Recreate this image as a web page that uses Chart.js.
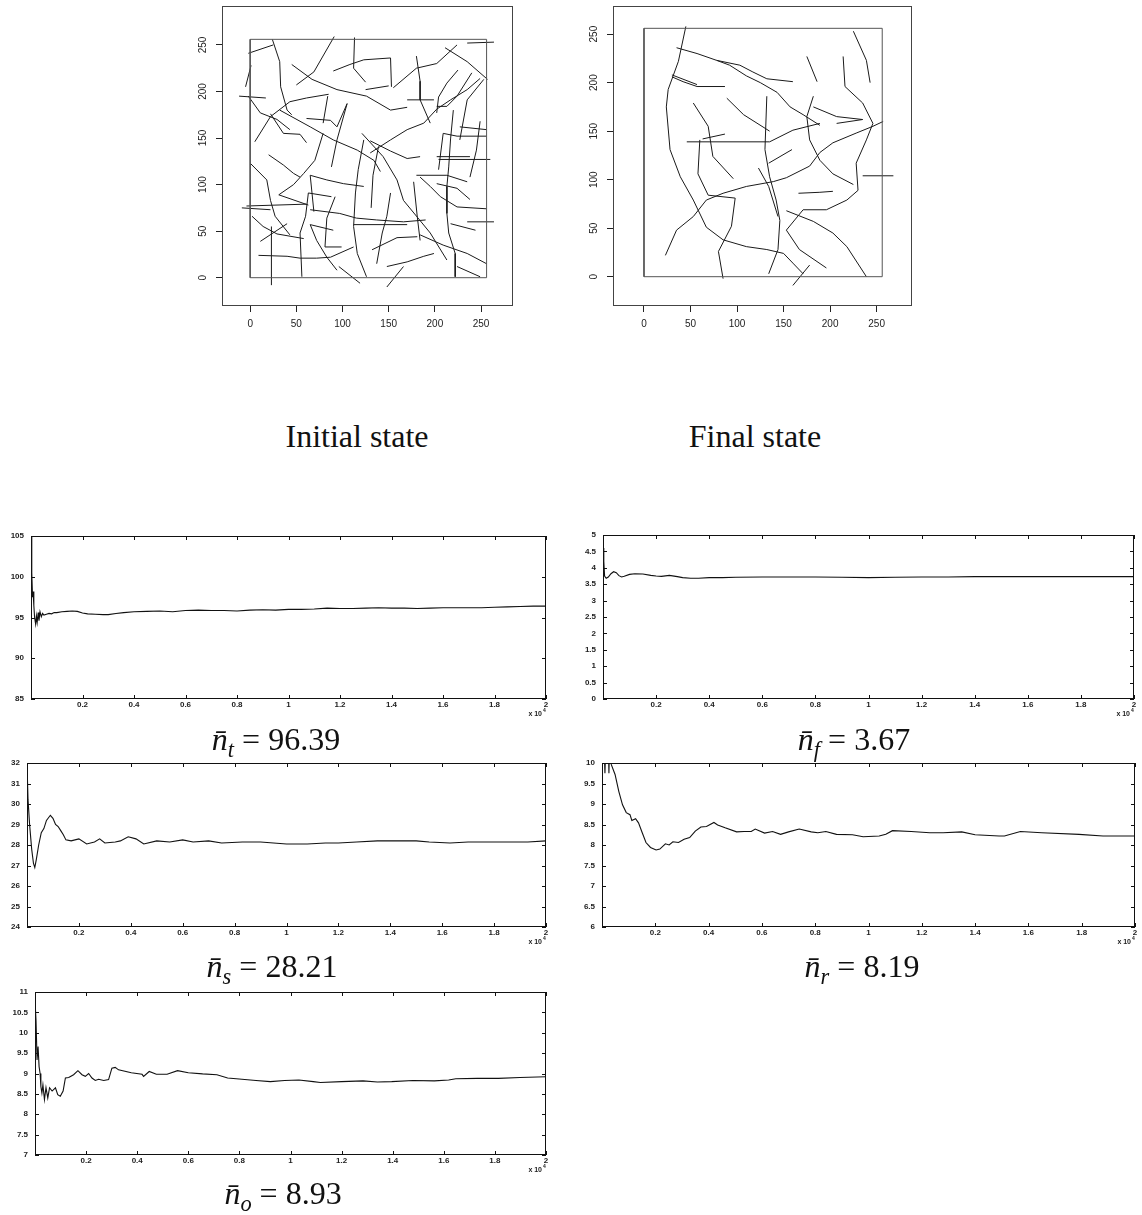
<!DOCTYPE html>
<html>
<head>
<meta charset="utf-8">
<script src="https://cdn.jsdelivr.net/npm/chart.js@4.4.0/dist/chart.umd.min.js"></script>
<style>
body { margin: 0; background: #fff; width: 1142px; height: 1215px; position: relative; overflow: hidden; }
.boite { position: absolute; }
.legende { position: absolute; font-family: 'Liberation Serif', serif; font-size: 32px; color: #111;
           white-space: nowrap; transform: translate(-50%, -50%); }
.legende sub { font-size: 0.7em; vertical-align: -0.3em; }
</style>
</head>
<body>
<div class="boite" id="b_initial"><canvas id="graph_initial"></canvas></div>
<div class="boite" id="b_final"><canvas id="graph_final"></canvas></div>
<div class="boite" id="b_nt"><canvas id="graph_nt"></canvas></div>
<div class="boite" id="b_nf"><canvas id="graph_nf"></canvas></div>
<div class="boite" id="b_ns"><canvas id="graph_ns"></canvas></div>
<div class="boite" id="b_nr"><canvas id="graph_nr"></canvas></div>
<div class="boite" id="b_no"><canvas id="graph_no"></canvas></div>

<div class="legende" style="left:357px; top:436px">Initial state</div>
<div class="legende" style="left:755px; top:436px">Final state</div>
<div class="legende" style="left:276px; top:742px"><i>n̄</i><sub><i>t</i></sub> = 96.39</div>
<div class="legende" style="left:854px; top:742px"><i>n̄</i><sub><i>f</i></sub> = 3.67</div>
<div class="legende" style="left:272px; top:969px"><i>n̄</i><sub><i>s</i></sub> = 28.21</div>
<div class="legende" style="left:862px; top:969px"><i>n̄</i><sub><i>r</i></sub> = 8.19</div>
<div class="legende" style="left:283px; top:1196px"><i>n̄</i><sub><i>o</i></sub> = 8.93</div>

<script>
/*------------------------------*/
/*          Donnees             */
/*------------------------------*/
// etats : polylignes [x1,y1, x2,y2, ...]
var carre = [0,0, 256,0, 256,256, 0,256, 0,0]
var ticks_etat = [0, 50, 100, 150, 200, 250]

var lignes_initial = [
  [-2,241, 25,250],
  [24,256, 32,232, 33,205, 40,180, 45,175],
  [-5,205, 1,228],
  [-12,195, 17,193],
  [-2,195, 11,177, 29,170, 43,159],
  [45,229, 67,213, 94,202, 126,195, 152,180, 170,183],
  [50,207, 69,221, 91,259],
  [90,222, 108,229, 123,234, 152,236],
  [113,258, 112,225, 125,210],
  [152,236, 153,205],
  [125,202, 150,206],
  [155,204, 180,225, 202,230, 224,250],
  [211,247, 235,232, 257,213],
  [235,252, 264,253],
  [180,238, 184,211, 184,191, 195,166],
  [202,177, 204,194, 213,209, 225,223],
  [240,220, 224,195, 213,184, 202,184],
  [227,148, 235,191, 253,213],
  [170,191, 199,191],
  [5,146, 22,173, 43,189, 61,193, 85,197],
  [22,176, 36,155, 54,154, 61,145],
  [32,180, 65,162, 90,148, 116,137, 134,126, 141,114],
  [61,171, 87,169],
  [87,169, 94,162, 105,187],
  [84,195, 79,166],
  [88,119, 94,148, 105,187],
  [20,132, 36,121, 47,112, 54,108],
  [31,89, 47,100, 58,112, 70,126, 79,155],
  [0,123, 18,105, 22,83, 27,66, 43,46],
  [31,89, 63,78],
  [65,73, 97,69, 115,64, 137,62, 166,60, 190,62],
  [63,91, 88,87],
  [63,91, 60,66, 54,48, 56,1],
  [65,110, 83,105, 101,101, 123,98],
  [65,110, 69,71],
  [92,87, 83,64, 81,33, 99,33],
  [123,148, 117,116, 114,91, 112,55, 116,26, 126,1],
  [121,155, 144,130, 159,105, 166,83, 181,65, 195,48, 213,19],
  [130,147, 152,136, 170,128, 184,130],
  [130,134, 152,148, 170,159, 188,166, 202,181, 217,191, 235,202, 249,214],
  [152,91, 148,66, 143,48, 137,15],
  [184,108, 195,98, 206,87, 224,76, 256,74],
  [180,110, 213,110, 235,103],
  [202,101, 224,96, 238,84],
  [204,116, 209,155, 224,152, 256,152],
  [202,130, 238,130],
  [204,127, 260,127],
  [227,162, 256,159],
  [220,180, 217,149, 215,119, 213,98, 213,69, 215,48, 222,26, 222,1],
  [235,60, 264,60],
  [217,58, 244,51],
  [184,46, 209,35, 235,26, 256,15],
  [224,12, 249,1],
  [132,30, 159,43, 181,44],
  [148,12, 170,17, 188,23, 199,26],
  [148,-10, 166,12],
  [9,24, 40,23, 54,21, 72,21, 87,22, 112,33],
  [23,-8, 23,55],
  [2,66, 14,55, 29,47, 58,42],
  [11,39, 40,58],
  [-9,75, 22,73],
  [-4,77, 61,79],
  [65,57, 72,40, 83,22, 94,8],
  [65,57, 90,51],
  [96,12, 119,-6],
  [112,57, 170,57],
  [177,103, 181,65, 184,40],
  [139,141, 133,110, 131,75],
  [249,168, 245,137, 238,108]
]

var lignes_final = [
  [23,22, 35,48, 53,62, 67,79, 85,86, 110,93, 139,98, 153,102, 178,114, 189,128, 203,138, 228,148, 246,155, 257,160],
  [45,258, 37,222, 26,193, 24,175, 28,131, 39,103, 53,79, 67,51, 85,38, 110,31, 132,28, 150,24, 160,14, 171,3],
  [35,236, 57,230, 78,223, 103,218, 117,211, 132,204, 160,201],
  [78,223, 92,218, 110,207, 125,200, 143,190, 157,175, 171,167, 189,156],
  [30,206, 42,201, 57,196, 87,196],
  [30,208, 57,198],
  [53,179, 69,155, 74,124, 96,101],
  [89,184, 107,167, 135,150],
  [46,139, 135,139, 160,151, 189,158],
  [60,141, 58,106, 69,84, 98,81, 94,52, 80,26, 85,-2],
  [63,142, 87,147],
  [132,186, 130,131, 135,103, 142,79, 146,58, 144,28, 134,3],
  [123,112, 134,93, 144,62],
  [134,117, 159,131],
  [175,227, 186,201],
  [182,186, 175,165, 178,141, 189,120, 203,106, 225,95],
  [182,175, 207,165, 235,162],
  [207,158, 235,162],
  [214,227, 216,196, 235,179, 246,158, 239,141, 228,117, 230,89, 218,79, 196,69, 171,69, 153,48, 167,28, 196,9],
  [225,253, 239,223, 243,200],
  [166,86, 189,87, 203,88],
  [235,104, 268,104],
  [160,-9, 178,12],
  [153,68, 182,57, 203,45, 218,31, 239,0]
]

// series temporelles (x en unites de 10^4)
var ticks_temps = [0, 0.2, 0.4, 0.6, 0.8, 1, 1.2, 1.4, 1.6, 1.8, 2]

var temps_nt = [0, 0.003, 0.006, 0.008, 0.011, 0.014, 0.018, 0.021, 0.024, 0.028, 0.031, 0.035, 0.04, 0.045, 0.05, 0.06, 0.07, 0.08, 0.09, 0.1, 0.12, 0.14, 0.16, 0.18, 0.2, 0.22, 0.25, 0.28, 0.3, 0.33, 0.36, 0.4, 0.45, 0.5, 0.55, 0.6, 0.65, 0.7, 0.75, 0.8, 0.85, 0.9, 0.95, 1.0, 1.05, 1.1, 1.15, 1.2, 1.25, 1.3, 1.35, 1.4, 1.45, 1.5, 1.55, 1.6, 1.65, 1.7, 1.75, 1.8, 1.85, 1.9, 1.95, 2.0]
var valeurs_nt = [105, 100.5, 97.5, 98.2, 96.5, 95, 94.2, 95.2, 94.4, 95.6, 94.6, 95.7, 95.1, 95.5, 95.3, 95.4, 95.5, 95.45, 95.6, 95.6, 95.7, 95.75, 95.8, 95.75, 95.55, 95.45, 95.4, 95.35, 95.35, 95.5, 95.6, 95.7, 95.75, 95.8, 95.7, 95.85, 95.9, 95.85, 95.85, 95.8, 95.9, 95.95, 95.9, 96.0, 96.0, 96.05, 96.15, 96.1, 96.1, 96.15, 96.2, 96.15, 96.15, 96.1, 96.15, 96.2, 96.2, 96.2, 96.2, 96.25, 96.3, 96.35, 96.4, 96.4]
var ticks_nt = [85, 90, 95, 100, 105]

var temps_nf = [0, 0.003, 0.006, 0.012, 0.02, 0.03, 0.04, 0.05, 0.06, 0.07, 0.08, 0.1, 0.12, 0.15, 0.18, 0.2, 0.22, 0.25, 0.28, 0.3, 0.33, 0.36, 0.4, 0.45, 0.5, 0.6, 0.7, 0.8, 0.9, 1.0, 1.1, 1.2, 1.3, 1.4, 1.5, 1.6, 1.7, 1.8, 1.9, 2.0]
var valeurs_nf = [4.6, 4.2, 3.75, 3.68, 3.72, 3.82, 3.88, 3.85, 3.76, 3.72, 3.74, 3.8, 3.82, 3.81, 3.77, 3.75, 3.74, 3.77, 3.73, 3.7, 3.68, 3.68, 3.7, 3.7, 3.71, 3.72, 3.72, 3.72, 3.71, 3.7, 3.71, 3.72, 3.72, 3.73, 3.73, 3.73, 3.73, 3.73, 3.73, 3.73]
var ticks_nf = [0, 0.5, 1, 1.5, 2, 2.5, 3, 3.5, 4, 4.5, 5]

var temps_ns = [0, 0.004, 0.01, 0.018, 0.025, 0.03, 0.036, 0.045, 0.055, 0.065, 0.075, 0.09, 0.1, 0.11, 0.12, 0.13, 0.14, 0.15, 0.17, 0.2, 0.23, 0.26, 0.28, 0.3, 0.34, 0.36, 0.39, 0.42, 0.45, 0.5, 0.55, 0.6, 0.64, 0.7, 0.75, 0.83, 0.9, 0.95, 1.0, 1.08, 1.15, 1.2, 1.27, 1.35, 1.45, 1.5, 1.55, 1.63, 1.7, 1.75, 1.85, 1.93, 2.0]
var valeurs_ns = [32, 30.2, 29.0, 27.8, 27.1, 26.9, 27.3, 28.0, 28.6, 28.8, 29.2, 29.45, 29.3, 29.0, 28.9, 28.7, 28.5, 28.25, 28.2, 28.3, 28.05, 28.15, 28.3, 28.1, 28.15, 28.2, 28.4, 28.3, 28.05, 28.2, 28.15, 28.25, 28.15, 28.2, 28.1, 28.15, 28.15, 28.1, 28.05, 28.05, 28.1, 28.1, 28.15, 28.2, 28.2, 28.2, 28.15, 28.1, 28.15, 28.15, 28.15, 28.15, 28.2]
var ticks_ns = [24, 25, 26, 27, 28, 29, 30, 31, 32]

var temps_nr = [0, 0.006, 0.008, 0.011, 0.014, 0.02, 0.024, 0.026, 0.028, 0.035, 0.049, 0.063, 0.077, 0.091, 0.105, 0.112, 0.126, 0.137, 0.151, 0.165, 0.182, 0.203, 0.217, 0.238, 0.252, 0.266, 0.287, 0.308, 0.329, 0.35, 0.371, 0.392, 0.42, 0.434, 0.462, 0.505, 0.533, 0.56, 0.575, 0.61, 0.64, 0.67, 0.7, 0.74, 0.785, 0.81, 0.84, 0.88, 0.94, 0.98, 1.04, 1.065, 1.09, 1.16, 1.23, 1.28, 1.35, 1.4, 1.49, 1.51, 1.57, 1.65, 1.79, 1.88, 2.0]
var valeurs_nr = [11, 10.6, 10.4, 9.75, 10.4, 10.6, 10.4, 9.75, 10.4, 9.96, 9.72, 9.31, 8.98, 8.79, 8.74, 8.6, 8.64, 8.54, 8.3, 8.06, 7.94, 7.88, 7.9, 8.03, 8.0, 8.08, 8.06, 8.14, 8.18, 8.34, 8.44, 8.45, 8.55, 8.49, 8.42, 8.32, 8.33, 8.33, 8.39, 8.29, 8.33, 8.26, 8.32, 8.39, 8.32, 8.3, 8.33, 8.26, 8.25, 8.2, 8.22, 8.26, 8.35, 8.33, 8.3, 8.3, 8.32, 8.25, 8.22, 8.22, 8.33, 8.3, 8.26, 8.22, 8.22]
var ticks_nr = [6, 6.5, 7, 7.5, 8, 8.5, 9, 9.5, 10]

var temps_no = [0, 0.004, 0.008, 0.012, 0.016, 0.02, 0.023, 0.027, 0.031, 0.037, 0.043, 0.05, 0.057, 0.067, 0.08, 0.089, 0.099, 0.11, 0.119, 0.132, 0.151, 0.168, 0.184, 0.197, 0.21, 0.223, 0.236, 0.249, 0.269, 0.288, 0.301, 0.314, 0.327, 0.377, 0.419, 0.425, 0.447, 0.475, 0.517, 0.558, 0.6, 0.656, 0.712, 0.754, 0.81, 0.865, 0.921, 0.977, 1.033, 1.089, 1.117, 1.2, 1.284, 1.34, 1.396, 1.479, 1.563, 1.619, 1.647, 1.731, 1.814, 1.898, 2.0]
var valeurs_no = [10.8, 10.3, 9.33, 9.66, 9.17, 9.0, 8.68, 8.52, 8.72, 8.36, 8.65, 8.4, 8.65, 8.57, 8.65, 8.48, 8.44, 8.57, 8.89, 8.9, 8.97, 9.07, 8.97, 8.93, 9.0, 8.89, 8.83, 8.86, 8.83, 8.85, 9.13, 9.15, 9.09, 9.02, 8.98, 8.93, 9.05, 8.98, 8.98, 9.07, 9.02, 8.99, 8.97, 8.89, 8.86, 8.83, 8.8, 8.83, 8.84, 8.8, 8.78, 8.8, 8.82, 8.79, 8.8, 8.83, 8.82, 8.84, 8.87, 8.88, 8.88, 8.9, 8.92]
var ticks_no = [7, 7.5, 8, 8.5, 9, 9.5, 10, 10.5, 11]

/*------------------------------*/
/*     Mise en page / outils    */
/*------------------------------*/
Chart.defaults.font.family = "'Liberation Sans', Arial, sans-serif"
Chart.defaults.color = '#222'
Chart.defaults.animation = false

// zone du graphe [gauche, haut, droite, bas] et marges [g, h, d, b]
function placer(id, zone, marge) {
  var b = document.getElementById(id)
  b.style.left = (zone[0] - marge[0]) + 'px'
  b.style.top = (zone[1] - marge[1]) + 'px'
  b.style.width = (zone[2] - zone[0] + marge[0] + marge[2]) + 'px'
  b.style.height = (zone[3] - zone[1] + marge[1] + marge[3]) + 'px'
}

function points(xs, ys) {
  return xs.map(function (x, i) { return { x: x, y: ys[i] } })
}
function polyligne(tab) {
  var p = []
  for (var i = 0; i < tab.length; i += 2) p.push({ x: tab[i], y: tab[i + 1] })
  return p
}
function fixerTicks(liste) {
  return function (s) { s.ticks = liste.map(function (v) { return { value: v } }) }
}

// cadre + petites graduations interieures facon matlab
var cadre = {
  id: 'cadre',
  afterDraw: function (chart, args, opt) {
    var a = chart.chartArea, c = chart.ctx
    c.save()
    c.strokeStyle = opt.couleur || '#111'
    c.lineWidth = 1
    c.strokeRect(Math.round(a.left) + 0.5, Math.round(a.top) + 0.5, Math.round(a.right - a.left) - 1, Math.round(a.bottom - a.top) - 1)
    if (opt.interieur) {
      var sx = chart.scales.x, sy = chart.scales.y, L = 4
      c.beginPath()
      sx.ticks.forEach(function (t) {
        var p = Math.round(sx.getPixelForValue(t.value)) + 0.5
        c.moveTo(p, a.bottom); c.lineTo(p, a.bottom - L)
        c.moveTo(p, a.top); c.lineTo(p, a.top + L)
      })
      sy.ticks.forEach(function (t) {
        var p = Math.round(sy.getPixelForValue(t.value)) + 0.5
        c.moveTo(a.left, p); c.lineTo(a.left + L, p)
        c.moveTo(a.right, p); c.lineTo(a.right - L, p)
      })
      c.stroke()
    }
    if (opt.exposant) {
      c.fillStyle = '#222'
      c.font = "bold 7px 'Liberation Sans', Arial, sans-serif"
      c.textAlign = 'right'
      c.textBaseline = 'alphabetic'
      c.fillText('x 10', a.right - 4, a.bottom + 17)
      c.font = "bold 5px 'Liberation Sans', Arial, sans-serif"
      c.textAlign = 'left'
      c.fillText('4', a.right - 3, a.bottom + 13)
    }
    c.restore()
  }
}

/*------------------------------*/
/*  Graphes etat initial/final  */
/*------------------------------*/
function config_etat(lignes, xmin, xmax, ymin, ymax, m) {
  var jeux = [{ data: polyligne(carre), showLine: true, pointRadius: 0, borderColor: '#555', borderWidth: 1 }]
  lignes.forEach(function (l) {
    jeux.push({ data: polyligne(l), showLine: true, pointRadius: 0, borderColor: '#1a1a1a', borderWidth: 1 })
  })
  return {
    type: 'scatter',
    data: { datasets: jeux },
    options: {
      responsive: true,
      maintainAspectRatio: false,
      layout: { padding: { left: 0, top: m[1], right: m[2], bottom: 0 } },
      plugins: { legend: { display: false }, tooltip: { enabled: false }, cadre: { interieur: false, couleur: '#444' } },
      scales: {
        x: {
          type: 'linear', min: xmin, max: xmax,
          afterBuildTicks: fixerTicks(ticks_etat),
          afterFit: function (s) { s.height = m[3] },
          grid: { drawOnChartArea: false, drawTicks: true, tickLength: 6, color: '#222' },
          border: { display: false },
          ticks: { autoSkip: false, maxRotation: 0, padding: 6, font: { size: 10 } }
        },
        y: {
          type: 'linear', min: ymin, max: ymax,
          afterBuildTicks: fixerTicks(ticks_etat),
          afterFit: function (s) { s.width = m[0] },
          grid: { drawOnChartArea: false, drawTicks: true, tickLength: 6, color: '#222' },
          border: { display: false },
          ticks: { autoSkip: false, minRotation: 90, maxRotation: 90, crossAlign: 'center', padding: 4, font: { size: 10 } }
        }
      }
    },
    plugins: [cadre]
  }
}

var zone_initial = [222, 6, 513, 306], marge_etat = [34, 16, 6, 32]
placer('b_initial', zone_initial, marge_etat)
var ctx_initial = document.getElementById('graph_initial').getContext('2d')
var graph_initial = new Chart(ctx_initial, config_etat(lignes_initial, -30.5, 284.6, -30.4, 291.8, marge_etat))

var zone_final = [613, 6, 912, 306]
placer('b_final', zone_final, marge_etat)
var ctx_final = document.getElementById('graph_final').getContext('2d')
var graph_final = new Chart(ctx_final, config_etat(lignes_final, -33.3, 288, -30.2, 279, marge_etat))

/*------------------------------*/
/*     Series temporelles       */
/*------------------------------*/
function config_serie(xs, ys, ticksY, m) {
  return {
    type: 'scatter',
    data: { datasets: [{ data: points(xs, ys), showLine: true, pointRadius: 0, borderColor: '#111', borderWidth: 1.1 }] },
    options: {
      responsive: true,
      maintainAspectRatio: false,
      layout: { padding: { left: 0, top: m[1], right: m[2], bottom: 0 } },
      plugins: { legend: { display: false }, tooltip: { enabled: false }, cadre: { interieur: true, exposant: true } },
      scales: {
        x: {
          type: 'linear', min: 0, max: 2,
          afterBuildTicks: fixerTicks(ticks_temps),
          afterFit: function (s) { s.height = m[3] },
          grid: { display: false, drawTicks: false },
          border: { display: false },
          ticks: {
            autoSkip: false, maxRotation: 0, padding: 1, font: { size: 8, weight: 'bold' },
            callback: function (v) { return v === 0 ? '' : String(Math.round(v * 10) / 10) }
          }
        },
        y: {
          type: 'linear', min: ticksY[0], max: ticksY[ticksY.length - 1],
          afterBuildTicks: fixerTicks(ticksY),
          afterFit: function (s) { s.width = m[0] },
          grid: { display: false, drawTicks: false },
          border: { display: false },
          ticks: {
            autoSkip: false, padding: 7, font: { size: 8, weight: 'bold' },
            callback: function (v) { return String(v) }
          }
        }
      }
    },
    plugins: [cadre]
  }
}

var zone_nt = [31, 536, 546, 699], marge_nt = [30, 16, 14, 22]
placer('b_nt', zone_nt, marge_nt)
var graph_nt = new Chart(document.getElementById('graph_nt').getContext('2d'), config_serie(temps_nt, valeurs_nt, ticks_nt, marge_nt))

var zone_nf = [603, 535, 1134, 699], marge_nf = [30, 16, 8, 22]
placer('b_nf', zone_nf, marge_nf)
var graph_nf = new Chart(document.getElementById('graph_nf').getContext('2d'), config_serie(temps_nf, valeurs_nf, ticks_nf, marge_nf))

var zone_ns = [27, 763, 546, 927], marge_ns = [27, 16, 14, 22]
placer('b_ns', zone_ns, marge_ns)
var graph_ns = new Chart(document.getElementById('graph_ns').getContext('2d'), config_serie(temps_ns, valeurs_ns, ticks_ns, marge_ns))

var zone_nr = [602, 763, 1135, 927], marge_nr = [30, 16, 7, 22]
placer('b_nr', zone_nr, marge_nr)
var graph_nr = new Chart(document.getElementById('graph_nr').getContext('2d'), config_serie(temps_nr, valeurs_nr, ticks_nr, marge_nr))

var zone_no = [35, 992, 546, 1155], marge_no = [30, 16, 14, 22]
placer('b_no', zone_no, marge_no)
var graph_no = new Chart(document.getElementById('graph_no').getContext('2d'), config_serie(temps_no, valeurs_no, ticks_no, marge_no))
</script>
</body>
</html>
